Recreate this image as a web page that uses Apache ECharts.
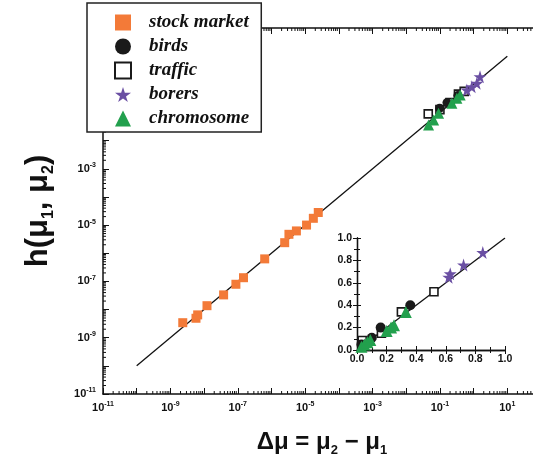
<!DOCTYPE html>
<html><head><meta charset="utf-8">
<script src="https://cdn.jsdelivr.net/npm/echarts@6/dist/echarts.min.js"></script>
<style>html,body{margin:0;padding:0;background:#fff}#c{width:533px;height:465px}</style>
</head><body><div id="c"></div>
<script>
// ---------- data (main log-log panel) ----------
const stockMarket = [[2.33e-9,3.41e-9],[5.75e-9,4.9e-9],[6.46e-9,6.46e-9],[1.22e-8,1.37e-8],[3.8e-8,3.31e-8],[8.8e-8,7.9e-8],[1.48e-7,1.35e-7],[6.3e-7,6.3e-7],[2.47e-6,2.37e-6],[3.3e-6,4.7e-6],[5.5e-6,6.2e-6],[1.1e-5,1.0e-5],[1.75e-5,1.74e-5],[2.45e-5,2.8e-5]];
const birdsMain = [[0.098,0.141],[0.162,0.224],[0.34,0.40]];
const trafficMain = [[0.045,0.089],[0.10,0.126],[0.20,0.224],[0.355,0.447],[0.525,0.56]];
const borersMain = [[0.63,0.63],[0.885,0.826],[1.245,1.09],[1.55,1.86]];
const chromosomeMain = [[0.046,0.036],[0.065,0.054],[0.091,0.093],[0.226,0.212],[0.318,0.319],[0.40,0.42]];
const fitMain = [[1e-10,1e-10],[10,10]];
// ---------- data (linear inset) ----------
const birdsInset = [[0.03,0.05],[0.10,0.11],[0.16,0.20],[0.36,0.40]];
const trafficInset = [[0.035,0.085],[0.165,0.15],[0.30,0.34],[0.52,0.52]];
const borersInset = [[0.62,0.65],[0.63,0.68],[0.72,0.76],[0.85,0.87]];
const chromosomeInset = [[0.03,0.03],[0.05,0.05],[0.07,0.07],[0.09,0.09],[0.20,0.17],[0.23,0.20],[0.25,0.22],[0.33,0.34]];
const fitInset = [[0,0],[1,1]];
// ---------- axis settings ----------
const logMin = 1e-11, logMax = 1e2;
const decades = [-11,-10,-9,-8,-7,-6,-5,-4,-3,-2,-1,0,1];
const minorMult = [2,3,4,5,6,7,8,9];
const minorTicks = [];
decades.forEach(d => minorMult.forEach(m => minorTicks.push(m * Math.pow(10, d))));

const C_ORANGE = '#F37A38', C_BLACK = '#1a1a1a', C_PURPLE = '#6A4FA3', C_GREEN = '#22A04D';
const STAR = 'path://M50,0 L61,35 L98,35 L68,57 L79,91 L50,70 L21,91 L32,57 L2,35 L39,35 Z';
const FONT = 'Liberation Sans';

function expLabel(v, onlyMax) {
  const e = Math.round(Math.log10(v));
  if (Math.abs(e) % 2 !== 1) return '';
  if (onlyMax !== undefined && e > onlyMax) return '';
  return '{b|10}{s|' + e + '}';
}
const labelRich = {
  b: {fontSize: 11, fontWeight: 'bold', fontFamily: FONT, color: '#111', lineHeight: 14},
  s: {fontSize: 7, fontWeight: 'bold', fontFamily: FONT, color: '#111', lineHeight: 8, verticalAlign: 'top'}
};

function xMinor(params, api) {
  const v = api.value(0);
  const b = api.coord([v, logMin]), t = api.coord([v, logMax]);
  return {type: 'group', children: [
    {type: 'line', shape: {x1: b[0], y1: b[1], x2: b[0], y2: b[1] - 3}, style: {stroke: '#111', lineWidth: 1}},
    {type: 'line', shape: {x1: t[0], y1: t[1], x2: t[0], y2: t[1] + 3}, style: {stroke: '#111', lineWidth: 1}}
  ]};
}
function yMinor(params, api) {
  const v = api.value(1);
  const l = api.coord([logMin, v]);
  return {type: 'line', shape: {x1: l[0], y1: l[1], x2: l[0] + 3, y2: l[1]}, style: {stroke: '#111', lineWidth: 1}};
}

const axisLine = {lineStyle: {color: '#111', width: 1.5}};
const logTick = {inside: true, length: 6, lineStyle: {color: '#111', width: 1}};

const chart = echarts.init(document.getElementById('c'), null, {renderer: 'canvas'});
chart.setOption({
  animation: false,
  backgroundColor: '#fff',
  grid: [
    {left: 103, top: 28, width: 438, height: 366, containLabel: false, outerBoundsMode: 'none'},
    {left: 357, top: 238, width: 148, height: 112, containLabel: false, outerBoundsMode: 'none'}
  ],
  legend: {
    orient: 'vertical', left: 87, top: 3,
    padding: [10, 12, 4, 27], itemGap: 5, itemWidth: 16, itemHeight: 16,
    backgroundColor: '#fff', borderColor: '#222', borderWidth: 1.5, borderRadius: 0,
    data: ['stock market', 'birds', 'traffic', 'borers', 'chromosome'],
    textStyle: {fontFamily: 'Liberation Serif', fontStyle: 'italic', fontWeight: 'bold', fontSize: 19, color: '#111', padding: [0, 0, 0, 13], lineHeight: 17},
    selectedMode: false
  },
  xAxis: [
    {type: 'log', gridIndex: 0, min: logMin, max: logMax, interval: 1, position: 'bottom',
     axisLine: axisLine, axisTick: logTick, splitLine: {show: false},
     axisLabel: {formatter: v => expLabel(v), rich: labelRich, margin: 7, showMinLabel: true, showMaxLabel: true},
     name: '{m|\u0394\u03bc = \u03bc}{u|2}{m| \u2212 \u03bc}{u|1}', nameLocation: 'middle', nameGap: 33,
     nameTextStyle: {rich: {
       m: {fontSize: 24, fontWeight: 'bold', fontFamily: FONT, color: '#111', lineHeight: 30},
       u: {fontSize: 13, fontWeight: 'bold', fontFamily: FONT, color: '#111', lineHeight: 13, verticalAlign: 'bottom'}
     }}},
    {type: 'log', gridIndex: 0, min: logMin, max: logMax, interval: 1, position: 'top',
     axisLine: axisLine, axisTick: logTick, splitLine: {show: false}, axisLabel: {show: false}},
    {type: 'value', gridIndex: 1, min: 0, max: 1, interval: 0.2, position: 'bottom',
     axisLine: {lineStyle: {color: '#111', width: 1.3}},
     axisTick: {inside: true, length: 4, lineStyle: {color: '#111'}},
     minorTick: {show: true, splitNumber: 2, length: 3, lineStyle: {color: '#111'}},
     splitLine: {show: false},
     axisLabel: {formatter: v => v.toFixed(1), fontSize: 10.5, fontWeight: 'bold', fontFamily: FONT, color: '#111', margin: 4}},
    {type: 'value', gridIndex: 1, min: 0, max: 1, interval: 0.2, position: 'top',
     axisLine: {lineStyle: {color: '#111', width: 1.3}},
     axisTick: {inside: true, length: 4, lineStyle: {color: '#111'}},
     minorTick: {show: true, splitNumber: 2, length: 3, lineStyle: {color: '#111'}},
     splitLine: {show: false}, axisLabel: {show: false}}
  ],
  yAxis: [
    {type: 'log', gridIndex: 0, min: logMin, max: logMax, interval: 1, position: 'left',
     axisLine: axisLine, axisTick: logTick, splitLine: {show: false},
     axisLabel: {formatter: v => expLabel(v, -3), rich: labelRich, margin: 7, showMinLabel: true},
     name: '{m|h(\u03bc}{u|1}{m|, \u03bc}{u|2}{m|)}', nameLocation: 'middle', nameGap: 46, nameRotate: 90,
     nameTextStyle: {rich: {
       m: {fontSize: 31, fontWeight: 'bold', fontFamily: FONT, color: '#111', lineHeight: 38},
       u: {fontSize: 16, fontWeight: 'bold', fontFamily: FONT, color: '#111', lineHeight: 16, verticalAlign: 'bottom'}
     }}},
    {type: 'value', gridIndex: 1, min: 0, max: 1, interval: 0.2, position: 'left',
     axisLine: {lineStyle: {color: '#111', width: 1.3}},
     axisTick: {inside: true, length: 4, lineStyle: {color: '#111'}},
     minorTick: {show: true, splitNumber: 2, length: 3, lineStyle: {color: '#111'}},
     splitLine: {show: false},
     axisLabel: {formatter: v => v.toFixed(1), fontSize: 10.5, fontWeight: 'bold', fontFamily: FONT, color: '#111', margin: 5}},
    {type: 'value', gridIndex: 1, min: 0, max: 1, interval: 0.2, position: 'right',
     axisLine: {lineStyle: {color: '#111', width: 1.3}},
     axisTick: {inside: true, length: 4, lineStyle: {color: '#111'}},
     minorTick: {show: true, splitNumber: 2, length: 3, lineStyle: {color: '#111'}},
     splitLine: {show: false}, axisLabel: {show: false}}
  ],
  series: [
    {type: 'custom', name: 'xminor', xAxisIndex: 0, yAxisIndex: 0, clip: false, silent: true,
     data: minorTicks.map(v => [v, 1e-5]), renderItem: xMinor, z: 1},
    {type: 'custom', name: 'yminor', xAxisIndex: 0, yAxisIndex: 0, clip: false, silent: true,
     data: minorTicks.map(v => [1e-5, v]), renderItem: yMinor, z: 1},
    {type: 'line', name: 'fit', xAxisIndex: 0, yAxisIndex: 0, data: fitMain, symbol: 'none',
     lineStyle: {color: '#111', width: 1.3}, z: 2},
    {type: 'line', name: 'fit2', xAxisIndex: 2, yAxisIndex: 1, data: fitInset, symbol: 'none',
     lineStyle: {color: '#111', width: 1.3}, z: 2},

    {type: 'scatter', name: 'stock market', xAxisIndex: 0, yAxisIndex: 0, data: stockMarket,
     symbol: 'rect', symbolSize: 9, itemStyle: {color: C_ORANGE, opacity: 1}, z: 3},
    {type: 'scatter', name: 'traffic', xAxisIndex: 0, yAxisIndex: 0, data: trafficMain,
     symbol: 'rect', symbolSize: 8, itemStyle: {color: '#fff', borderColor: C_BLACK, borderWidth: 1.6, opacity: 1}, z: 3},
    {type: 'scatter', name: 'birds', xAxisIndex: 0, yAxisIndex: 0, data: birdsMain,
     symbol: 'circle', symbolSize: 9, itemStyle: {color: C_BLACK, opacity: 1}, z: 3},
    {type: 'scatter', name: 'chromosome', xAxisIndex: 0, yAxisIndex: 0, data: chromosomeMain,
     symbol: 'triangle', symbolSize: 11, itemStyle: {color: C_GREEN, opacity: 1}, z: 4},
    {type: 'scatter', name: 'borers', xAxisIndex: 0, yAxisIndex: 0, data: borersMain,
     symbol: STAR, symbolSize: 13, itemStyle: {color: C_PURPLE, opacity: 1}, z: 4},

    {type: 'scatter', name: 'traffic', xAxisIndex: 2, yAxisIndex: 1, data: trafficInset,
     symbol: 'rect', symbolSize: 8, itemStyle: {color: '#fff', borderColor: C_BLACK, borderWidth: 1.6, opacity: 1}, z: 3},
    {type: 'scatter', name: 'birds', xAxisIndex: 2, yAxisIndex: 1, data: birdsInset,
     symbol: 'circle', symbolSize: 10, itemStyle: {color: C_BLACK, opacity: 1}, z: 3},
    {type: 'scatter', name: 'chromosome', xAxisIndex: 2, yAxisIndex: 1, data: chromosomeInset,
     symbol: 'triangle', symbolSize: 12, itemStyle: {color: C_GREEN, opacity: 1}, z: 4},
    {type: 'scatter', name: 'borers', xAxisIndex: 2, yAxisIndex: 1, data: borersInset,
     symbol: STAR, symbolSize: 13, itemStyle: {color: C_PURPLE, opacity: 1}, z: 4}
  ]
});
</script></body></html>
